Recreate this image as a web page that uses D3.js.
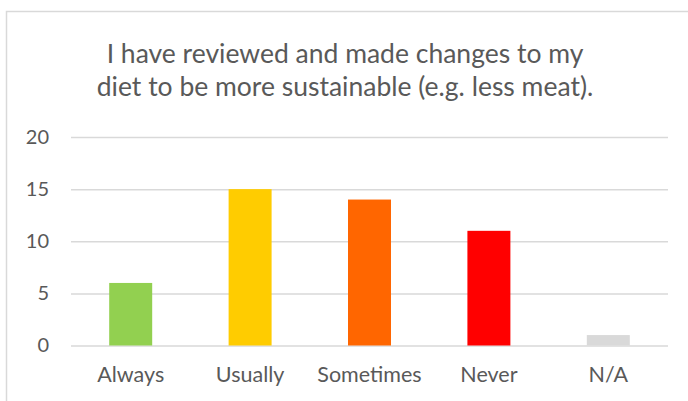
<!DOCTYPE html>
<html>
<head>
<meta charset="utf-8">
<script src="https://cdn.jsdelivr.net/npm/d3@7"></script>
<style>
  body { margin: 0; background: #fff; }
  text { font-family: Lato, "Open Sans", sans-serif; fill: #595959; }
</style>
</head>
<body>
<svg width="688" height="401"></svg>
<script>
var categories = ["Always", "Usually", "Sometimes", "Never", "N/A"];
var values = [6, 15, 14, 11, 1];
var colors = ["#92D050", "#FFCC00", "#FF6600", "#FF0000", "#D9D9D9"];
var yTicks = [0, 5, 10, 15, 20];
var titleLines = ["I have reviewed and made changes to my",
                  "diet to be more sustainable (e.g. less meat)."];

var svg = d3.select("svg");

// chart area border (runs off the right/bottom edge like the reference)
svg.append("rect")
   .attr("x", 6.5)
   .attr("y", 11.5)
   .attr("width", 700)
   .attr("height", 420)
   .attr("fill", "white")
   .attr("stroke", "#D9D9D9")
   .attr("stroke-width", 1.5);

var scaleX = d3.scaleBand()
               .domain(categories)
               .range([71, 668])
               .paddingInner(0.64)
               .paddingOuter(0.32);

var scaleY = d3.scaleLinear()
               .domain([0, 20])
               .range([345.5, 137]);

// gridlines
svg.append("g")
   .attr("transform", "translate(71,0)")
   .call(d3.axisLeft(scaleY).tickValues(yTicks).tickSize(-597).tickFormat(""))
   .call(function(g) {
     g.select(".domain").remove();
     g.selectAll("line").attr("stroke", "#D9D9D9").attr("stroke-width", 1.5);
   });

// y labels
svg.append("g")
   .attr("transform", "translate(49,0)")
   .call(d3.axisLeft(scaleY).tickValues(yTicks).tickSize(0).tickPadding(0))
   .call(function(g) {
     g.select(".domain").remove();
     g.selectAll("text")
      .attr("font-size", 20)
      .attr("fill", "#595959")
      .style("font-family", "Lato, sans-serif");
   });

// bars
svg.selectAll("rect.bar")
   .data(values)
   .enter()
   .append("rect")
   .attr("class", "bar")
   .attr("x", function(d, i) { return scaleX(categories[i]); })
   .attr("y", function(d) { return scaleY(d); })
   .attr("width", scaleX.bandwidth())
   .attr("height", function(d) { return scaleY(0) - scaleY(d); })
   .attr("fill", function(d, i) { return colors[i]; });

// x labels
svg.append("g")
   .attr("transform", "translate(0,345.5)")
   .call(d3.axisBottom(scaleX).tickSize(0).tickPadding(21))
   .call(function(g) {
     g.select(".domain").remove();
     g.selectAll("text")
      .attr("font-size", 21.5)
      .attr("fill", "#595959")
      .style("font-family", "Lato, sans-serif");
   });

// title
svg.append("g")
   .selectAll("text")
   .data(titleLines)
   .enter()
   .append("text")
   .attr("x", 345)
   .attr("y", function(d, i) { return 63 + i * 33; })
   .attr("text-anchor", "middle")
   .attr("font-size", 26.5)
   .text(function(d) { return d; });
</script>
</body>
</html>
